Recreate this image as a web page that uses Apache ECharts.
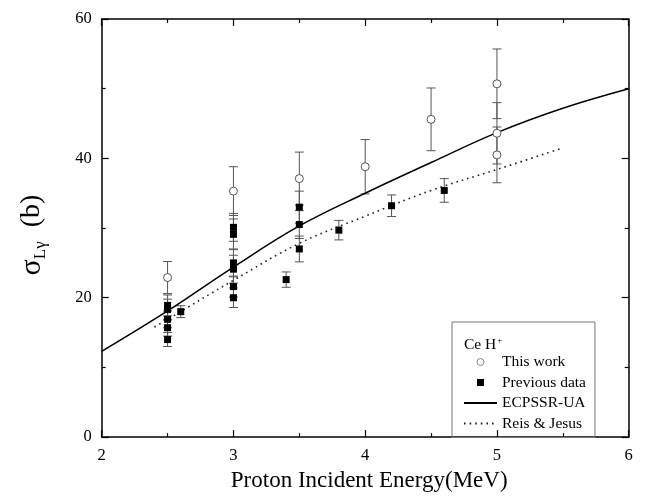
<!DOCTYPE html>
<html>
<head>
<meta charset="utf-8">
<script src="https://cdn.jsdelivr.net/npm/echarts@6/dist/echarts.min.js"></script>
<style>
html,body{margin:0;padding:0;background:#fff;}
#chart{width:647px;height:497px;}
</style>
</head>
<body>
<div id="chart"></div>
<script>
// ---- data ----
const xTicks = [2, 3, 4, 5, 6];
const yTicks = [0, 20, 40, 60];

const thisWorkE     = [2.5, 3.0, 3.5, 4.0, 4.5, 5.0, 5.0, 5.0];
const thisWorkSigma = [22.9, 35.3, 37.1, 38.8, 45.6, 50.7, 43.6, 40.5];
const thisWorkErr   = [2.3, 3.5, 3.8, 3.9, 4.5, 5.0, 4.4, 4.0];

const prevE     = [2.5, 2.5, 2.5, 2.5, 2.5, 2.6, 3.0, 3.0, 3.0, 3.0, 3.0, 3.0, 3.4, 3.5, 3.5, 3.5, 3.8, 4.2, 4.6];
const prevSigma = [18.9, 18.3, 16.9, 15.7, 14.0, 18.0, 30.1, 29.1, 25.0, 24.1, 21.6, 20.0, 22.6, 33.0, 30.5, 27.0, 29.7, 33.2, 35.4];
const prevErr   = [1.5, 1.5, 1.2, 1.2, 1.0, 0.85, 2.0, 2.2, 2.0, 2.0, 1.5, 1.4, 1.1, 2.3, 2.0, 1.85, 1.4, 1.55, 1.7];

const ecpssrE     = [2.0, 2.5, 3.0, 3.5, 4.0, 4.5, 5.0, 5.5, 6.0];
const ecpssrSigma = [12.3, 18.1, 24.4, 30.3, 35.0, 39.4, 43.7, 47.2, 50.0];

const reisE     = [2.4, 2.5, 3.0, 3.5, 4.0, 4.5, 5.0, 5.5];
const reisSigma = [15.8, 16.9, 22.5, 27.8, 31.7, 35.4, 38.4, 41.5];

// ---- build ----
const FONT = '"Liberation Serif", "Times New Roman", serif';
const zip2 = (a, b) => a.map((v, i) => [v, b[i]]);
const zip3 = (a, b, c) => a.map((v, i) => [v, b[i], c[i]]);

function errRenderer(color) {
  return function (params, api) {
    const x = api.value(0), y = api.value(1), e = api.value(2);
    const t = api.coord([x, y + e]);
    const b = api.coord([x, y - e]);
    const w = 4.5;
    const st = { stroke: color, lineWidth: 1 };
    return {
      type: 'group',
      children: [
        { type: 'line', shape: { x1: t[0], y1: t[1], x2: b[0], y2: b[1] }, style: st },
        { type: 'line', shape: { x1: t[0] - w, y1: t[1], x2: t[0] + w, y2: t[1] }, style: st },
        { type: 'line', shape: { x1: b[0] - w, y1: b[1], x2: b[0] + w, y2: b[1] }, style: st }
      ]
    };
  };
}

const axisCommon = {
  axisLine: { show: true, onZero: false, lineStyle: { color: '#000', width: 1.5 } },
  axisTick: { show: true, inside: true, length: 7, lineStyle: { color: '#000', width: 1.2 } },
  minorTick: { show: true, splitNumber: 2, length: 4, lineStyle: { color: '#000', width: 1.2 } },
  splitLine: { show: false },
  minorSplitLine: { show: false }
};

const chart = echarts.init(document.getElementById('chart'), null, { renderer: 'canvas' });
chart.setOption({
  animation: false,
  backgroundColor: '#fff',
  title: {
    text: '{n|Ce H}{sup|+}',
    left: 459,
    top: 331,
    textStyle: {
      fontWeight: 'normal',
      rich: {
        n: { fontFamily: FONT, fontSize: 15.5, fontWeight: 'normal', color: '#000' },
        sup: { fontFamily: FONT, fontSize: 9, fontWeight: 'normal', color: '#000', verticalAlign: 'top', padding: [0, 0, 8, 1] }
      }
    }
  },
  legend: {
    left: 452,
    top: 322,
    orient: 'vertical',
    padding: [32, 9, 6, 11],
    itemWidth: 33,
    itemHeight: 7,
    itemGap: 4.5,
    borderColor: '#777',
    borderWidth: 1,
    textStyle: { fontFamily: FONT, fontSize: 15.5, color: '#000' },
    data: [
      { name: 'This work', icon: 'circle', itemStyle: { color: '#fff', borderColor: '#666', borderWidth: 0.8 } },
      { name: 'Previous data', icon: 'path://M0,0L10,0L10,10L0,10Z' },
      { name: 'ECPSSR-UA', itemStyle: { opacity: 0 } },
      { name: 'Reis & Jesus', itemStyle: { opacity: 0 } }
    ]
  },
  grid: { left: 101.7, right: 18.3, top: 19, bottom: 49.7, containLabel: false },
  xAxis: [
    Object.assign({
      type: 'value', min: xTicks[0], max: xTicks[xTicks.length - 1], interval: 1,
      position: 'bottom',
      name: 'Proton Incident Energy(MeV)',
      nameLocation: 'middle',
      nameGap: 21,
      nameTextStyle: { fontFamily: FONT, fontSize: 23, color: '#000', verticalAlign: 'top', padding: [0, 0, 0, 8] },
      axisLabel: { margin: 10, fontFamily: FONT, fontSize: 16.5, color: '#000' }
    }, axisCommon),
    Object.assign({
      type: 'value', min: xTicks[0], max: xTicks[xTicks.length - 1], interval: 1,
      position: 'top',
      axisLabel: { show: false }
    }, axisCommon)
  ],
  yAxis: [
    Object.assign({
      type: 'value', min: yTicks[0], max: yTicks[yTicks.length - 1], interval: 20,
      position: 'left',
      name: '{s|σ}{sub|Lγ}{b|  (b)}',
      nameLocation: 'middle',
      nameRotate: 90,
      nameGap: 53,
      nameTextStyle: {
        padding: [0, 0, 0, -14],
        rich: {
          s: { fontFamily: FONT, fontSize: 30, color: '#000', lineHeight: 34 },
          sub: { fontFamily: FONT, fontSize: 17, color: '#000', verticalAlign: 'bottom', lineHeight: 34 },
          b: { fontFamily: FONT, fontSize: 28, color: '#000', lineHeight: 34 }
        }
      },
      axisLabel: { margin: 10, fontFamily: FONT, fontSize: 16.5, color: '#000' }
    }, axisCommon),
    Object.assign({
      type: 'value', min: yTicks[0], max: yTicks[yTicks.length - 1], interval: 20,
      position: 'right',
      axisLabel: { show: false }
    }, axisCommon)
  ],
  series: [
    {
      type: 'custom',
      name: 'errThis',
      renderItem: errRenderer('#555'),
      data: zip3(thisWorkE, thisWorkSigma, thisWorkErr),
      encode: { x: 0, y: 1 },
      z: 2,
      silent: true
    },
    {
      type: 'custom',
      name: 'errPrev',
      renderItem: errRenderer('#555'),
      data: zip3(prevE, prevSigma, prevErr),
      encode: { x: 0, y: 1 },
      z: 2,
      silent: true
    },
    {
      type: 'line',
      name: 'ECPSSR-UA',
      data: zip2(ecpssrE, ecpssrSigma),
      smooth: 0.4,
      symbol: 'none',
      lineStyle: { color: '#000', width: 1.5, type: 'solid' },
      itemStyle: { color: '#000' },
      z: 3
    },
    {
      type: 'line',
      name: 'Reis & Jesus',
      data: zip2(reisE, reisSigma),
      smooth: 0.4,
      symbol: 'none',
      lineStyle: { color: '#222', width: 1.6, type: [1.6, 4] },
      itemStyle: { color: '#222' },
      z: 3
    },
    {
      type: 'scatter',
      name: 'This work',
      data: zip2(thisWorkE, thisWorkSigma),
      symbol: 'circle',
      symbolSize: 8,
      itemStyle: { color: '#fff', borderColor: '#555', borderWidth: 1, opacity: 1 },
      z: 4
    },
    {
      type: 'scatter',
      name: 'Previous data',
      data: zip2(prevE, prevSigma),
      symbol: 'rect',
      symbolSize: 7,
      itemStyle: { color: '#000', opacity: 1 },
      z: 4
    }
  ]
});
</script>
</body>
</html>
